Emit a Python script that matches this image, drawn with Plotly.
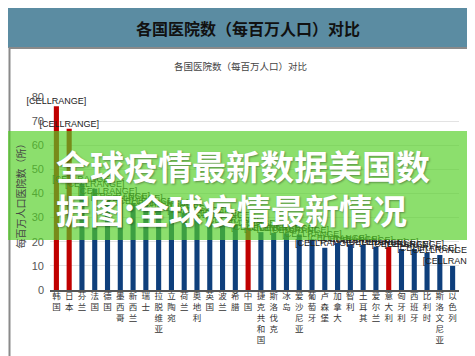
import plotly.graph_objects as go

categories = ["韩国", "日本", "芬兰", "法国", "德国", "墨西哥", "新西兰", "瑞士",
              "拉脱维亚", "立陶宛", "荷兰", "奥地利", "英国", "波兰", "希腊", "中国",
              "捷克共和国", "斯洛伐克", "冰岛", "爱沙尼亚", "葡萄牙", "卢森堡", "加拿大", "智利",
              "土耳其", "爱尔兰", "意大利", "匈牙利", "西班牙", "比利时", "斯洛文尼亚", "以色列"]
values = [76.2, 66.8, 44, 42, 39, 37, 36, 35,
          34, 33, 32, 31, 30, 29, 27, 25.7,
          24, 23.7, 23.5, 23, 21, 17.5, 19.5, 19,
          18.7, 18, 17.8, 17, 17, 15.4, 14.5, 10]
highlight = ["韩国", "日本", "中国", "意大利"]
label_text = "[CELLRANGE]"

title_main = "各国医院数（每百万人口）对比"
y_title = "每百万人口医院数（所）"
banner_text = "全球疫情最新数据美国数<br>据图:全球疫情最新情况"

RED = "#C00000"
BLUE = "#0E3F7C"
colors = [RED if c in highlight else BLUE for c in categories]
ticktext = ["<br>".join(list(c)) for c in categories]

W, H = 475, 356
L, R, T, B = 42, 451, 89, 282


def px(x):
    return (x - L) / (R - L)


def py(y):
    return (B - y) / (B - T)


fig = go.Figure(go.Bar(
    x=categories, y=values, marker=dict(color=colors, line=dict(width=0)),
    text=[label_text] * len(values), textposition="outside", textangle=0,
    constraintext="none", cliponaxis=False,
    textfont=dict(family="Liberation Sans", size=9, color="#222"),
    hoverinfo="skip",
))

shapes = [
    dict(type="rect", xref="paper", yref="paper", x0=px(0), x1=px(W), y0=py(40), y1=py(0),
         fillcolor="#5B8CA2", line=dict(width=0), layer="below"),
    dict(type="rect", xref="paper", yref="paper", x0=px(1.5), x1=px(471), y0=py(354.5), y1=py(40),
         fillcolor="rgba(0,0,0,0)", line=dict(color="#8a8a8a", width=2), layer="below"),
    dict(type="rect", xref="paper", yref="paper", x0=px(0), x1=px(W), y0=py(232), y1=py(123),
         fillcolor="rgba(84,208,38,0.67)", line=dict(width=0), layer="above"),
]

annotations = [
    dict(text=title_main, xref="paper", yref="paper", x=px(240), y=py(20),
         xanchor="center", yanchor="middle", showarrow=False,
         font=dict(family="Noto Sans CJK SC", size=16, color="#111", weight="bold")),
    dict(text=title_main, xref="paper", yref="paper", x=px(232), y=py(58),
         xanchor="center", yanchor="middle", showarrow=False,
         font=dict(family="Noto Sans CJK SC", size=9.5, color="#444")),
    dict(text=banner_text, xref="paper", yref="paper", x=px(46), y=py(179),
         xanchor="left", yanchor="middle", align="left", showarrow=False,
         font=dict(family="Noto Sans CJK SC", size=34, color="white", weight="bold",
                   shadow="1px 1px 2px rgba(0,0,0,0.35)")),
]

fig.update_layout(
    width=W, height=H,
    margin=dict(l=L, r=W - R, t=T, b=H - B, pad=0),
    paper_bgcolor="white", plot_bgcolor="white",
    showlegend=False, bargap=0.6,
    shapes=shapes, annotations=annotations,
    xaxis=dict(tickmode="array", tickvals=categories, ticktext=ticktext, tickangle=0,
               tickfont=dict(family="Noto Sans CJK SC", size=8.5, color="#333"),
               ticklabelstandoff=-3,
               showline=True, linecolor="#555", linewidth=1.5, ticks="", showgrid=False,
               fixedrange=True),
    yaxis=dict(range=[0, 80], dtick=10, showgrid=True, gridcolor="#e3e3e3", gridwidth=1,
               zeroline=False, showline=False, ticks="", ticklabelstandoff=5,
               tickfont=dict(family="Liberation Sans", size=11, color="#555"),
               title=dict(text=y_title, standoff=4,
                          font=dict(family="Noto Sans CJK SC", size=10, color="#444")),
               fixedrange=True),
)

fig.write_html("out.html")
